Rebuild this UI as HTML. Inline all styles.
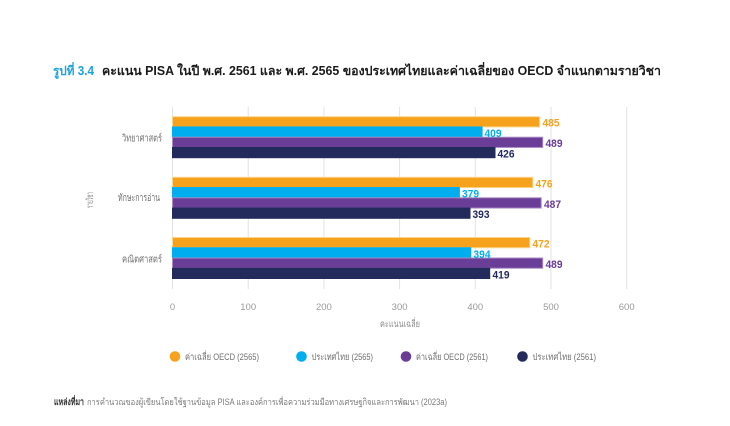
<!DOCTYPE html>
<html>
<head>
<meta charset="utf-8">
<style>
  html,body{margin:0;padding:0;background:#fff;}
  body{width:730px;height:426px;overflow:hidden;}
  svg{display:block;}
  text{font-family:"Liberation Sans","Noto Sans CJK SC",sans-serif;}
</style>
</head>
<body>
<svg width="730" height="426" viewBox="0 0 730 426" xmlns="http://www.w3.org/2000/svg">
  <rect width="730" height="426" fill="#fff"/>
  <!-- Title -->
  <text x="53" y="75" font-size="12.5" font-weight="bold" fill="#1aa3dc" textLength="41" lengthAdjust="spacingAndGlyphs">รูปที่ 3.4</text>
  <text x="102" y="75" font-size="12.5" font-weight="bold" fill="#1a1a1a" textLength="559" lengthAdjust="spacingAndGlyphs">คะแนน PISA ในปี พ.ศ. 2561 และ พ.ศ. 2565 ของประเทศไทยและค่าเฉลี่ยของ OECD จำแนกตามรายวิชา</text>

  <!-- Gridlines -->
  <g stroke="#e2e2e2" stroke-width="1">
    <line x1="172.5" y1="107" x2="172.5" y2="289"/>
    <line x1="248.2" y1="107" x2="248.2" y2="289"/>
    <line x1="323.9" y1="107" x2="323.9" y2="289"/>
    <line x1="399.6" y1="107" x2="399.6" y2="289"/>
    <line x1="475.3" y1="107" x2="475.3" y2="289"/>
    <line x1="551" y1="107" x2="551" y2="289"/>
    <line x1="626.7" y1="107" x2="626.7" y2="289"/>
  </g>

  <!-- Bars -->
  <g stroke-width="1">
    <rect x="172.5" y="116.7" width="367.1" height="10.25" fill="#f6a21d" stroke="#fbd48a"/>
    <rect x="172.5" y="126.95" width="309.6" height="10.25" fill="#00aeef" stroke="#00aeef"/>
    <rect x="172.5" y="137.2" width="370.2" height="10.25" fill="#6a3d97" stroke="#a98cc6"/>
    <rect x="172.5" y="147.45" width="322.5" height="10.25" fill="#232a5c" stroke="#232a5c"/>

    <rect x="172.5" y="177.3" width="360.3" height="10.25" fill="#f6a21d" stroke="#fbd48a"/>
    <rect x="172.5" y="187.55" width="286.9" height="10.25" fill="#00aeef" stroke="#00aeef"/>
    <rect x="172.5" y="197.8" width="368.7" height="10.25" fill="#6a3d97" stroke="#a98cc6"/>
    <rect x="172.5" y="208.05" width="297.5" height="10.25" fill="#232a5c" stroke="#232a5c"/>

    <rect x="172.5" y="237.5" width="357.3" height="10.25" fill="#f6a21d" stroke="#fbd48a"/>
    <rect x="172.5" y="247.75" width="298.3" height="10.25" fill="#00aeef" stroke="#00aeef"/>
    <rect x="172.5" y="258" width="370.2" height="10.25" fill="#6a3d97" stroke="#a98cc6"/>
    <rect x="172.5" y="268.25" width="317.2" height="10.25" fill="#232a5c" stroke="#232a5c"/>
  </g>

  <!-- Value labels -->
  <g font-size="11.2" font-weight="bold" lengthAdjust="spacingAndGlyphs">
    <text x="542.5" y="126.7" fill="#f6a21d" textLength="17" lengthAdjust="spacingAndGlyphs">485</text>
    <text x="484.5" y="137" fill="#00aeef" textLength="17" lengthAdjust="spacingAndGlyphs">409</text>
    <text x="545.5" y="147.2" fill="#6a3d97" textLength="17" lengthAdjust="spacingAndGlyphs">489</text>
    <text x="497.5" y="157.5" fill="#232a5c" textLength="17" lengthAdjust="spacingAndGlyphs">426</text>

    <text x="535.5" y="187.3" fill="#f6a21d" textLength="17" lengthAdjust="spacingAndGlyphs">476</text>
    <text x="462" y="197.6" fill="#00aeef" textLength="17" lengthAdjust="spacingAndGlyphs">379</text>
    <text x="544" y="207.8" fill="#6a3d97" textLength="17" lengthAdjust="spacingAndGlyphs">487</text>
    <text x="472.5" y="218.1" fill="#232a5c" textLength="17" lengthAdjust="spacingAndGlyphs">393</text>

    <text x="532.5" y="247.5" fill="#f6a21d" textLength="17" lengthAdjust="spacingAndGlyphs">472</text>
    <text x="473.5" y="257.8" fill="#00aeef" textLength="17" lengthAdjust="spacingAndGlyphs">394</text>
    <text x="545.5" y="268" fill="#6a3d97" textLength="17" lengthAdjust="spacingAndGlyphs">489</text>
    <text x="492.5" y="278.3" fill="#232a5c" textLength="17" lengthAdjust="spacingAndGlyphs">419</text>
  </g>

  <!-- Category labels -->
  <g font-size="10" fill="#707070">
    <text x="122" y="141.5" textLength="40" lengthAdjust="spacingAndGlyphs">วิทยาศาสตร์</text>
    <text x="118" y="201" textLength="42" lengthAdjust="spacingAndGlyphs">ทักษะการอ่าน</text>
    <text x="122" y="262.5" textLength="40" lengthAdjust="spacingAndGlyphs">คณิตศาสตร์</text>
  </g>

  <!-- Y axis title -->
  <text x="-8" y="0" font-size="9.5" fill="#8a8a8a" textLength="16" lengthAdjust="spacingAndGlyphs" transform="translate(93,200) rotate(-90)">รายวิชา</text>

  <!-- X tick labels -->
  <g font-size="9.5" fill="#9a9a9a" text-anchor="middle">
    <text x="172.5" y="310">0</text>
    <text x="248.2" y="310">100</text>
    <text x="323.9" y="310">200</text>
    <text x="399.6" y="310">300</text>
    <text x="475.3" y="310">400</text>
    <text x="551" y="310">500</text>
    <text x="626.7" y="310">600</text>
  </g>
  <text x="380" y="327" font-size="9.5" fill="#8a8a8a" textLength="40" lengthAdjust="spacingAndGlyphs">คะแนนเฉลี่ย</text>

  <!-- Legend -->
  <g font-size="9.5" fill="#707070">
    <circle cx="175" cy="356.5" r="5.3" fill="#f6a21d"/>
    <text x="185" y="360" textLength="74" lengthAdjust="spacingAndGlyphs">ค่าเฉลี่ย OECD (2565)</text>
    <circle cx="301.5" cy="356.5" r="5.3" fill="#00aeef"/>
    <text x="311.5" y="360" textLength="61.5" lengthAdjust="spacingAndGlyphs">ประเทศไทย (2565)</text>
    <circle cx="406" cy="356.5" r="5.3" fill="#6a3d97"/>
    <text x="416" y="360" textLength="72" lengthAdjust="spacingAndGlyphs">ค่าเฉลี่ย OECD (2561)</text>
    <circle cx="522.5" cy="356.5" r="5.3" fill="#232a5c"/>
    <text x="532.5" y="360" textLength="63.5" lengthAdjust="spacingAndGlyphs">ประเทศไทย (2561)</text>
  </g>

  <!-- Source -->
  <text x="54" y="405" font-size="9.5" font-weight="bold" fill="#333" textLength="30" lengthAdjust="spacingAndGlyphs">แหล่งที่มา</text>
  <text x="87" y="405" font-size="9" fill="#7a7a7a" textLength="360" lengthAdjust="spacingAndGlyphs">การคำนวณของผู้เขียนโดยใช้ฐานข้อมูล PISA และองค์การเพื่อความร่วมมือทางเศรษฐกิจและการพัฒนา (2023a)</text>
</svg>
</body>
</html>
